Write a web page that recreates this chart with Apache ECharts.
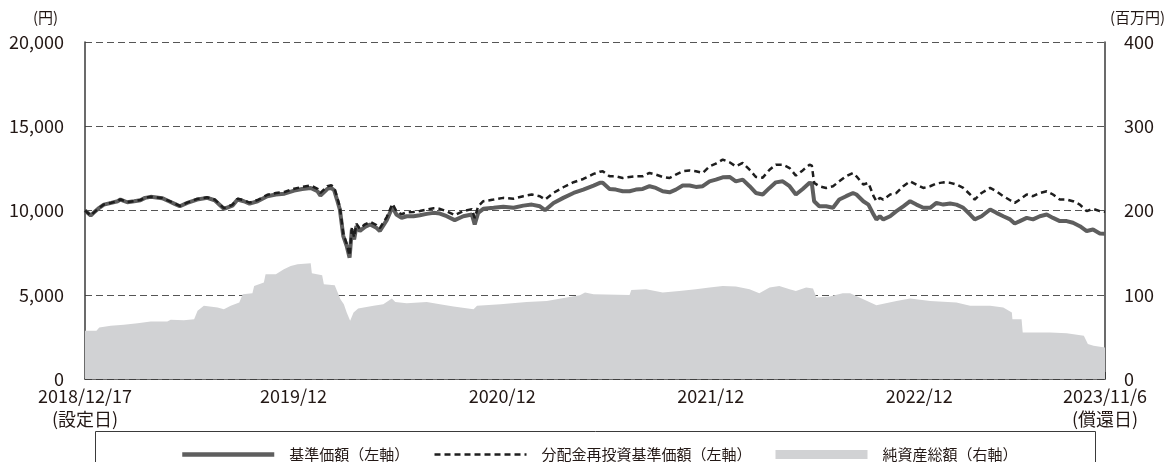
<!DOCTYPE html>
<html>
<head>
<meta charset="utf-8">
<script src="https://cdn.jsdelivr.net/npm/echarts@6/dist/echarts.min.js"></script>
<style>
html,body{margin:0;padding:0;background:#fff;}
#chart{width:1168px;height:462px;}
</style>
</head>
<body>
<div id="chart"></div>
<script>
// ---- data ----
const startDate = '2018-12-17';
const endDate = '2023-11-06';
const xTickLabels = ['2018/12/17\n(設定日)', '2019/12', '2020/12', '2021/12', '2022/12', '2023/11/6\n(償還日)'];
const seriesNames = ['基準価額（左軸）', '分配金再投資基準価額（左軸）', '純資産総額（右軸）'];

const navDates = [
'2018-12-17','2018-12-27','2019-01-01','2019-01-11','2019-01-19','2019-02-01','2019-02-12','2019-02-17','2019-03-01','2019-03-13',
'2019-03-24','2019-04-01','2019-04-11','2019-05-01','2019-05-13','2019-05-22','2019-06-01','2019-06-14','2019-07-01','2019-07-19',
'2019-08-01','2019-08-08','2019-08-17','2019-09-01','2019-09-10','2019-09-21','2019-10-01','2019-10-15','2019-11-01','2019-11-16',
'2019-12-01','2019-12-18','2020-01-01','2020-01-16','2020-01-28','2020-02-02','2020-02-14','2020-02-21','2020-02-26','2020-03-02',
'2020-03-07','2020-03-13','2020-03-19','2020-03-24','2020-03-28','2020-04-01','2020-04-05','2020-04-11','2020-04-20','2020-04-29',
'2020-05-10','2020-05-16','2020-05-28','2020-06-07','2020-06-14','2020-06-23','2020-07-02','2020-07-14','2020-07-25','2020-08-06',
'2020-08-18','2020-08-29','2020-09-10','2020-09-24','2020-10-09','2020-10-24','2020-10-29','2020-11-04','2020-11-13','2020-12-01',
'2020-12-18','2021-01-05','2021-01-22','2021-02-06','2021-02-20','2021-03-01','2021-03-16','2021-04-02','2021-04-20','2021-05-07',
'2021-05-25','2021-06-05','2021-06-10','2021-06-22','2021-07-03','2021-07-15','2021-07-27','2021-08-07','2021-08-19','2021-08-31',
'2021-09-11','2021-09-23','2021-10-05','2021-10-16','2021-10-28','2021-11-09','2021-11-20','2021-12-02','2021-12-14','2021-12-25',
'2022-01-06','2022-01-18','2022-01-29','2022-02-10','2022-02-22','2022-03-05','2022-03-17','2022-03-29','2022-04-09','2022-04-21',
'2022-05-03','2022-05-14','2022-05-26','2022-06-07','2022-06-11','2022-06-15','2022-06-24','2022-07-06','2022-07-18','2022-07-29',
'2022-08-10','2022-08-22','2022-08-28','2022-09-09','2022-09-18','2022-09-27','2022-10-02','2022-10-08','2022-10-14','2022-10-26',
'2022-11-06','2022-11-18','2022-11-30','2022-12-11','2022-12-23','2023-01-04','2023-01-15','2023-01-27','2023-02-08','2023-02-19',
'2023-03-03','2023-03-15','2023-03-23','2023-04-04','2023-04-19','2023-04-30','2023-05-12','2023-05-24','2023-06-01','2023-06-10',
'2023-06-22','2023-07-03','2023-07-15','2023-07-27','2023-08-07','2023-08-19','2023-08-31','2023-09-11','2023-09-23','2023-10-05',
'2023-10-16','2023-10-28','2023-11-06'
];

// 基準価額 (円)
const navValues = [
10000,9700,9860,10160,10350,10450,10550,10650,10490,10550,
10610,10750,10810,10730,10550,10410,10250,10450,10650,10750,
10610,10390,10100,10290,10650,10550,10410,10550,10850,10950,
11000,11180,11280,11340,11140,10890,11280,11340,11200,10650,
10060,8480,7890,7200,8870,8280,9070,8780,9030,9170,
8970,8780,9430,10210,9760,9560,9660,9660,9720,9800,
9860,9820,9660,9430,9660,9760,9170,9860,10100,10160,
10220,10160,10290,10350,10250,10020,10450,10750,11040,11240,
11480,11640,11640,11280,11240,11140,11140,11240,11280,11440,
11340,11140,11080,11240,11480,11480,11400,11440,11730,11830,
11970,11990,11730,11830,11440,11040,10950,11340,11670,11730,
11440,10950,11280,11640,11600,10550,10250,10250,10160,10650,
10850,11040,10950,10550,10350,9760,9470,9660,9470,9660,
9960,10250,10550,10350,10160,10160,10450,10350,10410,10350,
10160,9760,9470,9660,10060,9860,9660,9470,9230,9370,
9560,9470,9660,9760,9560,9370,9370,9270,9070,8780,
8870,8640,8620
];

// 分配金再投資基準価額 (円)
const reinvValues = [
10000,9700,9860,10160,10360,10460,10560,10660,10500,10560,
10620,10760,10820,10740,10570,10430,10270,10470,10680,10780,
10650,10430,10140,10340,10700,10610,10470,10620,10930,11040,
11100,11290,11400,11480,11290,11040,11440,11500,11380,10820,
10220,8620,8020,7320,9000,8410,9210,8920,9180,9330,
9140,8950,9610,10400,9960,9780,9890,9910,9970,10060,
10130,10100,9950,9720,9970,10080,9550,10250,10550,10650,
10750,10700,10850,10950,10850,10650,11050,11380,11680,11870,
12170,12300,12330,12030,12030,11930,11990,12030,12030,12230,
12130,11990,11930,12130,12330,12380,12330,12230,12620,12780,
13020,12860,12620,12820,12420,11990,11950,12420,12720,12720,
12520,12070,12380,12720,12660,11640,11440,11340,11440,11730,
12030,12230,12030,11540,11640,10850,10550,10750,10650,10950,
11040,11440,11730,11540,11340,11440,11600,11670,11640,11540,
11340,10950,10650,11040,11340,11140,10850,10610,10450,10650,
10950,10850,11040,11140,10950,10650,10650,10550,10350,9960,
10100,9960,9920
];

const aumDates = [
'2018-12-17','2019-01-06','2019-01-11','2019-01-31','2019-02-23','2019-03-19','2019-04-11','2019-05-10','2019-05-16','2019-06-08',
'2019-06-26','2019-07-02','2019-07-13','2019-08-06','2019-08-17','2019-08-29','2019-09-13','2019-09-19','2019-10-06','2019-10-09',
'2019-10-26','2019-10-29','2019-11-16','2019-11-30','2019-12-12','2019-12-24','2020-01-16','2020-01-18','2020-02-05','2020-02-08',
'2020-02-27','2020-03-08','2020-03-14','2020-03-19','2020-03-25','2020-03-31','2020-04-08','2020-05-05','2020-05-22','2020-06-06',
'2020-06-12','2020-07-02','2020-08-06','2020-08-29','2020-09-22','2020-10-27','2020-11-02','2020-12-13','2021-01-28','2021-03-04',
'2021-04-08','2021-05-01','2021-05-10','2021-05-25','2021-07-27','2021-07-30','2021-08-25','2021-09-23','2021-10-22','2021-11-20',
'2021-12-14','2022-01-06','2022-01-29','2022-02-22','2022-03-11','2022-03-29','2022-04-15','2022-05-03','2022-05-14','2022-06-01',
'2022-06-13','2022-06-19','2022-07-12','2022-08-04','2022-08-17','2022-09-09','2022-10-02','2022-11-06','2022-11-30','2023-01-04',
'2023-02-19','2023-03-15','2023-04-19','2023-05-12','2023-05-27','2023-05-28','2023-06-13','2023-06-15','2023-08-02','2023-08-31',
'2023-09-30','2023-10-07','2023-10-17','2023-11-06'
];

// 純資産総額 (百万円)
const aumValues = [
57.2,57.2,61.1,63.1,64.3,66.3,68.2,68.2,70.2,69.8,
71.0,80.9,86.8,84.8,82.8,86.8,90.7,100.6,101.8,110.5,
114.4,124.3,124.3,130.2,134.1,136.1,137.3,125.5,123.1,112.4,
111.2,94.7,88.8,78.9,69.0,78.9,83.6,86.8,88.8,95.5,
91.5,89.9,91.5,88.8,86.0,82.8,86.8,88.8,91.5,92.7,
96.7,99.4,102.6,100.6,99.8,105.7,106.5,102.6,104.5,106.5,
108.5,110.5,109.7,106.5,101.8,108.5,110.5,106.5,104.5,108.5,
107.3,96.7,97.8,101.8,101.8,94.7,87.6,92.7,95.5,92.7,
90.7,86.8,86.8,84.8,78.9,71.0,71.0,55.2,55.2,54.4,
51.3,41.4,39.4,37.5
];

// ---- build ----
const DAY = 86400000;
const t0 = Date.parse(startDate);
const dayOf = s => Math.round((Date.parse(s) - t0) / DAY);
const xMax = dayOf(endDate);
const tickMap = {};
[0, 365, 730, 1095, 1460].forEach((d, i) => tickMap[d] = xTickLabels[i]);
tickMap[xMax] = xTickLabels[5];

const navData = navDates.map((d, i) => [dayOf(d), navValues[i]]);
const reinvData = navDates.map((d, i) => [dayOf(d), reinvValues[i]]);
const aumData = aumDates.map((d, i) => [dayOf(d), aumValues[i]]);

const FONT = '"Noto Sans CJK JP", "Noto Sans", sans-serif';
const TXT = '#231815';
const C_NAV = '#5e5e5e', C_REINV = '#1e1e1e', C_AUM = '#d1d2d4';
const noSymbol = {color: 'rgba(0,0,0,0)', borderColor: 'rgba(0,0,0,0)', borderWidth: 0, opacity: 0};

const chart = echarts.init(document.getElementById('chart'), null, {renderer: 'canvas'});
chart.setOption({
  animation: false,
  backgroundColor: '#ffffff',
  textStyle: {fontFamily: FONT},
  grid: {left: 85, right: 63, top: 42, bottom: 83, containLabel: false},
  xAxis: {
    type: 'value', min: 0, max: xMax, interval: 365,
    axisLine: {show: true, lineStyle: {color: '#3a3a3a', width: 1.5}},
    axisTick: {show: true, inside: true, length: 7, lineStyle: {color: '#3a3a3a', width: 1}},
    splitLine: {show: false},
    axisLabel: {
      show: true, showMinLabel: true, showMaxLabel: true, margin: 6,
      fontSize: 18, color: TXT, fontFamily: FONT, lineHeight: 23,
      formatter: v => tickMap[Math.round(v)] !== undefined ? tickMap[Math.round(v)] : ''
    }
  },
  yAxis: [
    {
      type: 'value', min: 0, max: 20000, interval: 5000, position: 'left',
      axisLine: {show: true, lineStyle: {color: '#3a3a3a', width: 1.5}},
      axisTick: {show: false},
      axisLabel: {margin: 21, fontSize: 18, color: TXT, fontFamily: FONT,
        formatter: v => v.toLocaleString('en-US')},
      splitLine: {show: true, lineStyle: {color: '#555555', width: 1.2, type: [7, 4]}}
    },
    {
      type: 'value', min: 0, max: 400, interval: 100, position: 'right',
      axisLine: {show: true, lineStyle: {color: '#3a3a3a', width: 1.5}},
      axisTick: {show: false},
      axisLabel: {margin: 19, fontSize: 18, color: TXT, fontFamily: FONT},
      splitLine: {show: false}
    }
  ],
  legend: {
    left: 175, top: 442, itemWidth: 92, itemHeight: 9, itemGap: 24,
    textStyle: {fontSize: 15, color: TXT, fontFamily: FONT, padding: [0, 0, 0, 10]},
    data: [
      {name: seriesNames[0], itemStyle: noSymbol, lineStyle: {width: 4.5, color: C_NAV}},
      {name: seriesNames[1], itemStyle: noSymbol, lineStyle: {width: 2.5, color: C_REINV, type: [6, 4]}},
      {name: seriesNames[2], icon: 'rect'}
    ]
  },
  series: [
    {
      name: seriesNames[2], type: 'line', yAxisIndex: 1, data: aumData,
      symbol: 'none', showSymbol: false, z: 1,
      lineStyle: {width: 0, color: C_AUM},
      itemStyle: {color: C_AUM},
      areaStyle: {color: C_AUM, opacity: 1}
    },
    {
      name: seriesNames[0], type: 'line', yAxisIndex: 0, data: navData,
      symbol: 'none', showSymbol: false, z: 3,
      lineStyle: {width: 4, color: C_NAV},
      itemStyle: {color: C_NAV}
    },
    {
      name: seriesNames[1], type: 'line', yAxisIndex: 0, data: reinvData,
      symbol: 'none', showSymbol: false, z: 4,
      lineStyle: {width: 2.5, color: C_REINV, type: [6, 4]},
      itemStyle: {color: C_REINV}
    }
  ],
  graphic: [
    {type: 'text', left: 33, top: 10, style: {text: '(円)', fontSize: 15, fill: TXT, fontFamily: FONT}},
    {type: 'text', left: 1110, top: 10, style: {text: '(百万円)', fontSize: 15, fill: TXT, fontFamily: FONT}},
    {type: 'rect', shape: {x: 95.5, y: 431.5, width: 1000, height: 60},
      style: {fill: 'none', stroke: '#3a3a3a', lineWidth: 1}, z: -1}
  ]
});
</script>
</body>
</html>
